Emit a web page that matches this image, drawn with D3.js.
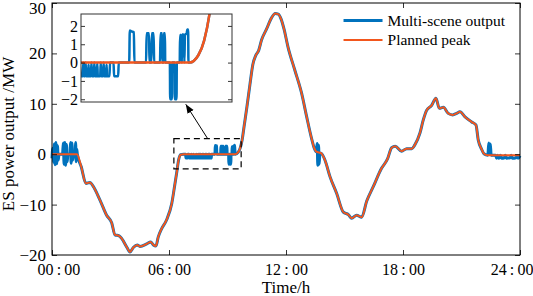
<!DOCTYPE html>
<html>
<head>
<meta charset="utf-8">
<script src="https://cdn.jsdelivr.net/npm/d3@7"></script>
<style>
  body { margin: 0; background: #fff; }
  svg { display: block; }
  text { font-family: "Liberation Serif", "Times New Roman", serif; fill: #000; }
</style>
</head>
<body>
<svg id="chart"></svg>
<script>
// time axis (hours) and labels
const hourTicks = [0, 6, 12, 18, 24];
const hourLabels = ["00\u2009:\u200900", "06\u2009:\u200900", "12\u2009:\u200900", "18\u2009:\u200900", "24\u2009:\u200900"];
const powerTicks = [-20, -10, 0, 10, 20, 30];
const insetTicks = [-2, -1, 0, 1, 2];
const seriesNames = ["Multi-scene output", "Planned peak"];

// planned peak-shaving curve [hour, MW]
const plannedPeak = [
  [0, 0], [1.28, 0], [1.5, -2.5], [1.74, -5.8], [1.95, -5.6], [2.1, -6.3], [2.46, -9.1],
  [2.8, -12.1], [3.06, -13.6], [3.23, -16.0], [3.44, -16.2], [3.57, -16.7], [3.83, -18.4],
  [4.0, -19.4], [4.17, -18.5], [4.37, -18.0], [4.51, -18.3], [4.86, -17.8], [5.06, -17.4],
  [5.2, -18.0], [5.33, -18.2], [5.45, -16.4], [5.62, -14.8], [5.88, -13.0], [6.14, -9.8],
  [6.3, -6.0], [6.39, -3.8], [6.5, -1.0], [6.6, -0.1], [6.75, 0], [9.4, 0], [9.55, 0.4],
  [9.65, 1.2], [9.75, 2.8], [9.85, 5.5], [10.0, 9.5], [10.15, 13.8], [10.3, 17.8],
  [10.45, 19.6], [10.6, 20.6], [10.75, 22.7], [11.0, 24.8], [11.25, 27.0], [11.45, 27.9],
  [11.6, 27.8], [11.75, 26.8], [11.9, 24.8], [12.1, 21.3], [12.45, 16.7], [12.8, 12.1],
  [13.05, 7.6], [13.3, 3.3], [13.45, 1.2], [13.55, 0.5], [13.8, 0.2], [14.0, -1.2],
  [14.26, -4.5], [14.6, -7.8], [14.94, -11.5], [15.2, -12.0], [15.37, -12.7], [15.62, -12.1],
  [15.88, -12.5], [16.14, -9.3], [16.48, -6.4], [16.9, -2.8], [17.2, -1.0], [17.42, 1.3],
  [17.6, 1.6], [17.93, 0.6], [18.19, 1.1], [18.45, 1.1], [18.6, 1.8], [18.87, 4.2],
  [19.04, 6.8], [19.21, 8.7], [19.47, 9.7], [19.69, 11.1], [19.86, 9.1], [20.07, 9.3],
  [20.32, 8.1], [20.55, 7.8], [20.75, 8.1], [20.92, 8.4], [21.18, 7.4], [21.52, 6.4],
  [21.74, 5.8], [21.86, 2.8], [22.03, 1.0], [22.15, 0.1], [22.35, -0.2], [24, -0.2]
];

// multi-scene output where it departs from the plan [hour, MW]
const sceneNight = [
  [0, -0.8], [0.04, 1.2], [0.08, -1.6], [0.12, 2.0], [0.16, -2.1], [0.2, 2.3], [0.24, -1.9],
  [0.28, 1.7], [0.32, -1.2], [0.36, 0], [0.54, 0], [0.58, 2.2], [0.62, -2.0], [0.66, 2.3],
  [0.7, -2.2], [0.74, 1.9], [0.78, -1.5], [0.82, 0], [0.92, 0], [0.95, 2.3], [0.98, -1.8],
  [1.02, 2.2], [1.06, -1.2], [1.1, 0], [1.18, 0], [1.21, 2.3], [1.24, -1.5], [1.27, 1.0], [1.3, 0]
];
const sceneMorning = [
  [6.8, 0], [6.85, 0], [6.87, -0.75], [6.95, -0.75], [6.97, 0], [7.02, 0], [7.04, -0.75],
  [7.12, -0.75], [7.14, 0], [7.16, -0.75], [7.24, -0.75], [7.26, 0], [7.3, -0.75], [7.38, -0.75],
  [7.4, 0], [7.44, -0.75], [7.49, -0.75], [7.5, 0],
  [7.53, -0.75], [7.56, -0.75], [7.57, 0], [7.58, -0.75], [7.6, -0.75], [7.61, 0], [7.62, -0.75],
  [7.65, -0.75], [7.66, -0.1], [7.67, -0.75], [7.7, -0.75], [7.71, 0], [7.72, -0.75],
  [7.75, -0.75], [7.76, 0], [7.77, -0.75], [7.8, -0.75], [7.81, -0.05], [7.82, -0.75],
  [7.86, -0.75], [7.87, 0], [7.88, -0.75], [7.91, -0.75], [7.92, 0], [7.93, -0.75],
  [7.96, -0.75], [7.97, -0.1], [7.98, -0.75], [8.02, -0.75], [8.03, 0], [8.09, 0],
  [8.1, -0.75], [8.17, -0.75], [8.18, 0],
  [8.36, 0], [8.37, 1.75], [8.4, 1.7], [8.44, 1.65], [8.45, 0],
  [8.65, 0], [8.66, 1.6], [8.7, 1.6], [8.71, 0], [8.74, 0], [8.75, 1.6], [8.78, 1.6], [8.79, 0],
  [8.89, 0], [8.9, 1.6], [8.925, 1.6], [8.93, 0], [8.95, 0], [8.955, 1.6], [8.975, 1.6], [8.98, 0],
  [9.06, 0], [9.065, -2], [9.095, -2], [9.1, 0], [9.14, 0], [9.145, -2], [9.175, -2], [9.18, 0],
  [9.23, 0], [9.235, 1.5], [9.26, 1.5], [9.265, 0], [9.28, 1.55], [9.3, 1.5], [9.31, 0],
  [9.32, 1.5], [9.35, 1.6], [9.36, 1.8], [9.375, 1.8], [9.38, 0], [9.4, 0]
];
const sceneNoon = [
  [13.55, 0.5], [13.6, 2.1], [13.63, -2.2], [13.67, 1.8], [13.7, -2.0], [13.74, 0.2], [13.8, 0.2]
];
const sceneLate = [
  [22.35, -0.2], [22.4, 2.2], [22.44, 0], [22.48, 2.0], [22.52, -0.2], [22.75, -0.2],
  [22.8, -0.8], [22.85, -0.2], [22.9, -0.8], [22.95, -0.7], [23.0, -0.2], [23.05, -0.8],
  [23.2, -0.7], [23.25, -0.2], [23.3, -0.8], [23.5, -0.7], [23.55, -0.2], [23.6, -0.8],
  [23.8, -0.7], [23.85, -0.3], [23.9, -0.8], [24, -0.3]
];

// zoomed window shown in the inset
const zoomHours = [6.25, 9.7];
const zoomPower = [-2.9, 3.1];
const insetHours = [7.53, 10.13];
const insetPower = [-2.15, 2.65];

const blue = "#0072BD", orange = "#F2561D";
const serif = "'Liberation Serif', 'Times New Roman', serif";

const W = 533, H = 296;
const margin = {top: 3, right: 13, bottom: 41, left: 52};
const width = W - margin.left - margin.right;
const height = H - margin.top - margin.bottom;

const svg = d3.select("#chart").attr("width", W).attr("height", H);
const g = svg.append("g").attr("transform", `translate(${margin.left},${margin.top})`);

const x = d3.scaleLinear().domain([0, 24]).range([0, width]);
const y = d3.scaleLinear().domain([-20, 30]).range([height, 0]);

// merge plan and scene deviations into the multi-scene series
const sceneWindows = [sceneNight, sceneMorning, sceneNoon, sceneLate];
const multiScene = plannedPeak
  .filter(p => !sceneWindows.some(w => p[0] >= w[0][0] && p[0] <= w[w.length - 1][0]))
  .concat(...sceneWindows)
  .sort((a, b) => a[0] - b[0]);

const line = d3.line().x(d => x(d[0])).y(d => y(d[1])).curve(d3.curveMonotoneX);

g.append("path").datum(multiScene)
  .attr("d", line).attr("fill", "none").attr("stroke", blue).attr("stroke-width", 3);
g.append("path").datum(plannedPeak)
  .attr("d", line).attr("fill", "none").attr("stroke", orange).attr("stroke-width", 2);

// axes, ticks pointing inwards on all sides
const styleAxis = (sel, size) => {
  sel.select(".domain").remove();
  sel.selectAll(".tick line").attr("stroke", "#000").attr("stroke-width", 0.8);
  sel.selectAll("text").style("font-family", serif).style("font-size", size + "px").attr("fill", "#000");
};
const xAxis = g.append("g").attr("transform", `translate(0,${height})`)
  .call(d3.axisBottom(x).tickValues(hourTicks).tickFormat((d, i) => hourLabels[i]).tickSize(-5).tickPadding(9))
  .call(styleAxis, 16);
// edge labels pulled inside the figure
xAxis.selectAll(".tick text")
  .attr("text-anchor", d => d === 0 ? "start" : d === 24 ? "end" : "middle")
  .attr("x", d => d === 0 ? -15 : d === 24 ? 13 : 0);
g.append("g")
  .call(d3.axisTop(x).tickValues(hourTicks).tickFormat("").tickSize(-5))
  .call(styleAxis, 16);
const yAxis = g.append("g")
  .call(d3.axisLeft(y).tickValues(powerTicks).tickSize(-5).tickPadding(6))
  .call(styleAxis, 17);
yAxis.selectAll(".tick text").filter(d => d === 30).attr("y", 5);
g.append("g").attr("transform", `translate(${width},0)`)
  .call(d3.axisRight(y).tickValues(powerTicks).tickFormat("").tickSize(-5))
  .call(styleAxis, 16);
g.append("rect").attr("width", width).attr("height", height)
  .attr("fill", "none").attr("stroke", "#000").attr("stroke-width", 1);

// axis titles
g.append("text")
  .attr("x", width / 2).attr("y", height + 38)
  .attr("text-anchor", "middle").attr("font-size", "17px")
  .text("Time/h");
g.append("text")
  .attr("transform", "rotate(-90)")
  .attr("x", -height / 2 - 5).attr("y", -38)
  .attr("text-anchor", "middle").attr("font-size", "17px")
  .text("ES power output /MW");

// legend
const legend = g.append("g").attr("transform", `translate(${x(14.95)},17.5)`);
[blue, orange].forEach((c, i) => {
  legend.append("line").attr("x1", 0).attr("x2", 39).attr("y1", i * 19.5).attr("y2", i * 19.5)
    .attr("stroke", c).attr("stroke-width", i === 0 ? 3 : 2);
  legend.append("text").attr("x", 44).attr("y", i * 19.5).attr("dy", "0.33em")
    .attr("font-size", "15.5px").text(seriesNames[i]);
});

// dashed zoom box and arrow
g.append("rect")
  .attr("x", x(zoomHours[0])).attr("y", y(zoomPower[1]))
  .attr("width", x(zoomHours[1]) - x(zoomHours[0]))
  .attr("height", y(zoomPower[0]) - y(zoomPower[1]))
  .attr("fill", "none").attr("stroke", "#000").attr("stroke-width", 1.2)
  .attr("stroke-dasharray", "6,4");

const defs = svg.append("defs");
defs.append("marker")
  .attr("id", "arrow").attr("viewBox", "0 0 10 10").attr("refX", 10).attr("refY", 5)
  .attr("markerWidth", 9).attr("markerHeight", 9).attr("orient", "auto")
  .attr("markerUnits", "userSpaceOnUse")
  .append("path").attr("d", "M0,1 L10,5 L0,9 Z").attr("fill", "#000");

g.append("line")
  .attr("x1", x(7.98)).attr("y1", y(zoomPower[1]))
  .attr("x2", x(6.86)).attr("y2", y(9.9))
  .attr("stroke", "#000").attr("stroke-width", 1)
  .attr("marker-end", "url(#arrow)");

// inset
const inset = {left: 29, top: 11, width: 151, height: 88};
const ix = d3.scaleLinear().domain(insetHours).range([0, inset.width]);
const iy = d3.scaleLinear().domain(insetPower).range([inset.height, 0]);
const ig = g.append("g").attr("transform", `translate(${inset.left},${inset.top})`);

ig.append("rect").attr("width", inset.width).attr("height", inset.height).attr("fill", "#fff");
defs.append("clipPath").attr("id", "insetClip")
  .append("rect").attr("width", inset.width).attr("height", inset.height);

const iline = d3.line().x(d => ix(d[0])).y(d => iy(d[1])).curve(d3.curveMonotoneX);
const plot = ig.append("g").attr("clip-path", "url(#insetClip)");
plot.append("path").datum(multiScene)
  .attr("d", iline).attr("fill", "none").attr("stroke", blue).attr("stroke-width", 2.5);
plot.append("path").datum(plannedPeak)
  .attr("d", iline).attr("fill", "none").attr("stroke", orange).attr("stroke-width", 2.5);

ig.append("g")
  .call(d3.axisLeft(iy).tickValues(insetTicks).tickFormat(d3.format("d")).tickSize(-4).tickPadding(3))
  .call(styleAxis, 16);
ig.append("g").attr("transform", `translate(${inset.width},0)`)
  .call(d3.axisRight(iy).tickValues(insetTicks).tickFormat("").tickSize(-4))
  .call(styleAxis, 16);
ig.append("rect").attr("width", inset.width).attr("height", inset.height)
  .attr("fill", "none").attr("stroke", "#333").attr("stroke-width", 1);
</script>
</body>
</html>
